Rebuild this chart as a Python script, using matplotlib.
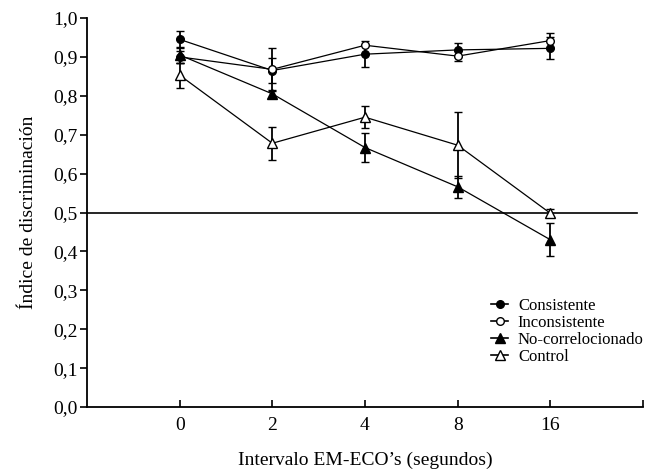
import numpy as np
import matplotlib
matplotlib.use("Agg")
import matplotlib.pyplot as plt
from matplotlib.lines import Line2D

plt.rcParams['font.family'] = ['Liberation Serif', 'DejaVu Serif']

# Data
intervals = ['0', '2', '4', '8', '16']
consistente = [0.945, 0.865, 0.907, 0.918, 0.922]
consistente_err = [0.022, 0.032, 0.033, 0.017, 0.028]
inconsistente = [0.900, 0.868, 0.930, 0.902, 0.942]
inconsistente_err = [0.015, 0.055, 0.000, 0.012, 0.020]
no_correl = [0.905, 0.805, 0.667, 0.566, 0.430]
no_correl_err = [0.020, 0.010, 0.037, 0.028, 0.042]
control = [0.853, 0.678, 0.745, 0.673, 0.498]
control_err = [0.032, 0.043, 0.028, 0.085, 0.010]

x = np.arange(len(intervals))

fig = plt.figure(figsize=(6.57, 4.69), dpi=100)
ax = fig.add_axes([0.1324, 0.1322, 0.8463, 0.8294])

series = [
    ('Consistente', consistente, consistente_err, 'o', 'black', 5.5),
    ('Inconsistente', inconsistente, inconsistente_err, 'o', 'white', 5.5),
    ('No-correlocionado', no_correl, no_correl_err, '^', 'black', 7),
    ('Control', control, control_err, '^', 'white', 7),
]

handles = []
for label, vals, errs, mk, fc, ms in series:
    ax.errorbar(x, vals, yerr=errs, fmt='-', color='black', lw=0.9,
                marker=mk, mfc=fc, mec='black', mew=1.0, ms=ms,
                ecolor='black', elinewidth=1.3, capsize=3, capthick=1.3)
    handles.append(Line2D([], [], color='black', lw=1.2, marker=mk, mfc=fc,
                          mec='black', mew=1.0, ms=ms, label=label))

ax.axhline(0.5, xmin=0, xmax=0.99, color='black', lw=1.2)

ax.set_xlim(-1, 5)
ax.set_ylim(0, 1)
ax.set_xticks([0, 1, 2, 3, 4, 5])
ax.set_xticklabels(intervals + [''])
yt = np.round(np.arange(0, 1.01, 0.1), 1)
ax.set_yticks(yt)
ax.set_yticklabels([f'{v:.1f}'.replace('.', ',') for v in yt])

ax.spines['top'].set_visible(False)
ax.spines['right'].set_visible(False)
ax.spines['left'].set_linewidth(1.3)
ax.spines['bottom'].set_linewidth(1.3)
ax.tick_params(axis='x', direction='in', length=5, width=1.2, labelsize=14, pad=7)
ax.tick_params(axis='y', direction='out', length=5, width=1.2, labelsize=14, pad=2)

ax.set_xlabel("Intervalo EM-ECO\u2019s (segundos)", fontsize=14, labelpad=13)
ax.set_ylabel("Índice de discriminación", fontsize=14, labelpad=11)

ax.legend(handles=handles, loc='upper left', bbox_to_anchor=(0.727, 0.28),
          frameon=False, fontsize=12, handlelength=1.0, handletextpad=0.6,
          labelspacing=0.05, borderpad=0, borderaxespad=0)

fig.savefig('out.png', dpi=100)
